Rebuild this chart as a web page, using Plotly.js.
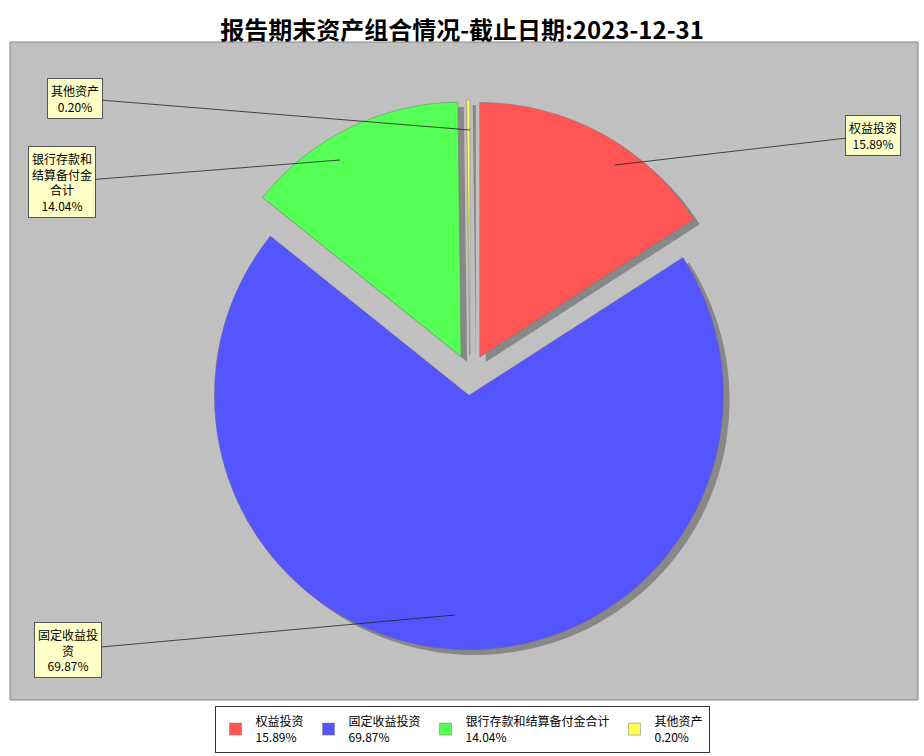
<!DOCTYPE html>
<html>
<head>
<meta charset="utf-8">
<script src="https://cdn.plot.ly/plotly-3.0.1.min.js"></script>
<style>body{margin:0;background:#fff}</style>
</head>
<body>
<div id="chart" style="width:924px;height:756px"></div>
<script>
// asset mix at period end
var labels = ["权益投资", "固定收益投资", "银行存款和结算备付金合计", "其他资产"];
var boxLabels = ["权益投资", "固定收益投<br>资", "银行存款和<br>结算备付金<br>合计", "其他资产"];
var values = [15.89, 69.87, 14.04, 0.20];
var colors = ["#ff5555", "#5555ff", "#55ff55", "#ffff55"];

var W = 924, H = 756;
function px(x) { return x / W; }
function py(y) { return 1 - y / H; }

var dom = {x: [px(195), px(745)], y: [py(650), py(100)]};
var shadowDom = {x: [px(201), px(751)], y: [py(655), py(105)]};

var pull = [0.08, 0.08, 0.08, 0.08];

var shadow = {
    type: "pie", values: values, labels: labels, sort: false, direction: "clockwise",
    rotation: 0, pull: pull, domain: shadowDom, textinfo: "none", hoverinfo: "skip",
    marker: {colors: ["#888", "#888", "#888", "#888"]}, showlegend: false
};

var pie = {
    type: "pie", values: values, sort: false, direction: "clockwise", rotation: 0,
    labels: labels.map(function(l, i) { return l + "<br>" + values[i].toFixed(2) + "%"; }),
    pull: pull, domain: dom, textinfo: "none",
    marker: {colors: colors, line: {color: "#777", width: 0.5}}
};

// label boxes: [anchor on slice, box position]
var lab = [
    [[615, 165], [873, 135]],
    [[455, 615], [68, 650]],
    [[340, 160], [62, 182]],
    [[470, 130], [75, 98]]
];
var annotations = lab.map(function(p, i) {
    return {
        xref: "paper", yref: "paper", x: px(p[0][0]), y: py(p[0][1]),
        ax: p[1][0] - p[0][0], ay: p[1][1] - p[0][1], axref: "pixel", ayref: "pixel",
        text: boxLabels[i] + "<br>" + values[i].toFixed(2) + "%",
        showarrow: true, arrowhead: 0, arrowwidth: 0.8, arrowcolor: "#222",
        bgcolor: "#ffffc8", bordercolor: "#555", borderwidth: 1, borderpad: 3,
        font: {family: "Noto Sans CJK SC", size: 12, color: "#000"}
    };
});

var layout = {
    width: W, height: H,
    margin: {l: 0, r: 0, t: 0, b: 0},
    paper_bgcolor: "#fff",
    title: {text: "<b>报告期末资产组合情况-截止日期:2023-12-31</b>", x: 0.5, y: 0.97,
        font: {family: "Noto Sans CJK SC", size: 24, color: "#000"}},
    shapes: [{type: "rect", xref: "paper", yref: "paper", x0: px(10), x1: px(918),
        y0: py(700), y1: py(42), fillcolor: "#c0c0c0", line: {color: "#888", width: 1}, layer: "below"}],
    annotations: annotations,
    legend: {orientation: "h", x: 0.5, xanchor: "center", y: py(706), yanchor: "top",
        bgcolor: "#fff", bordercolor: "#333", borderwidth: 1,
        font: {family: "Noto Sans CJK SC", size: 12, color: "#000"}, traceorder: "normal"}
};

Plotly.newPlot("chart", [shadow, pie], layout, {displayModeBar: false});
</script>
</body>
</html>
